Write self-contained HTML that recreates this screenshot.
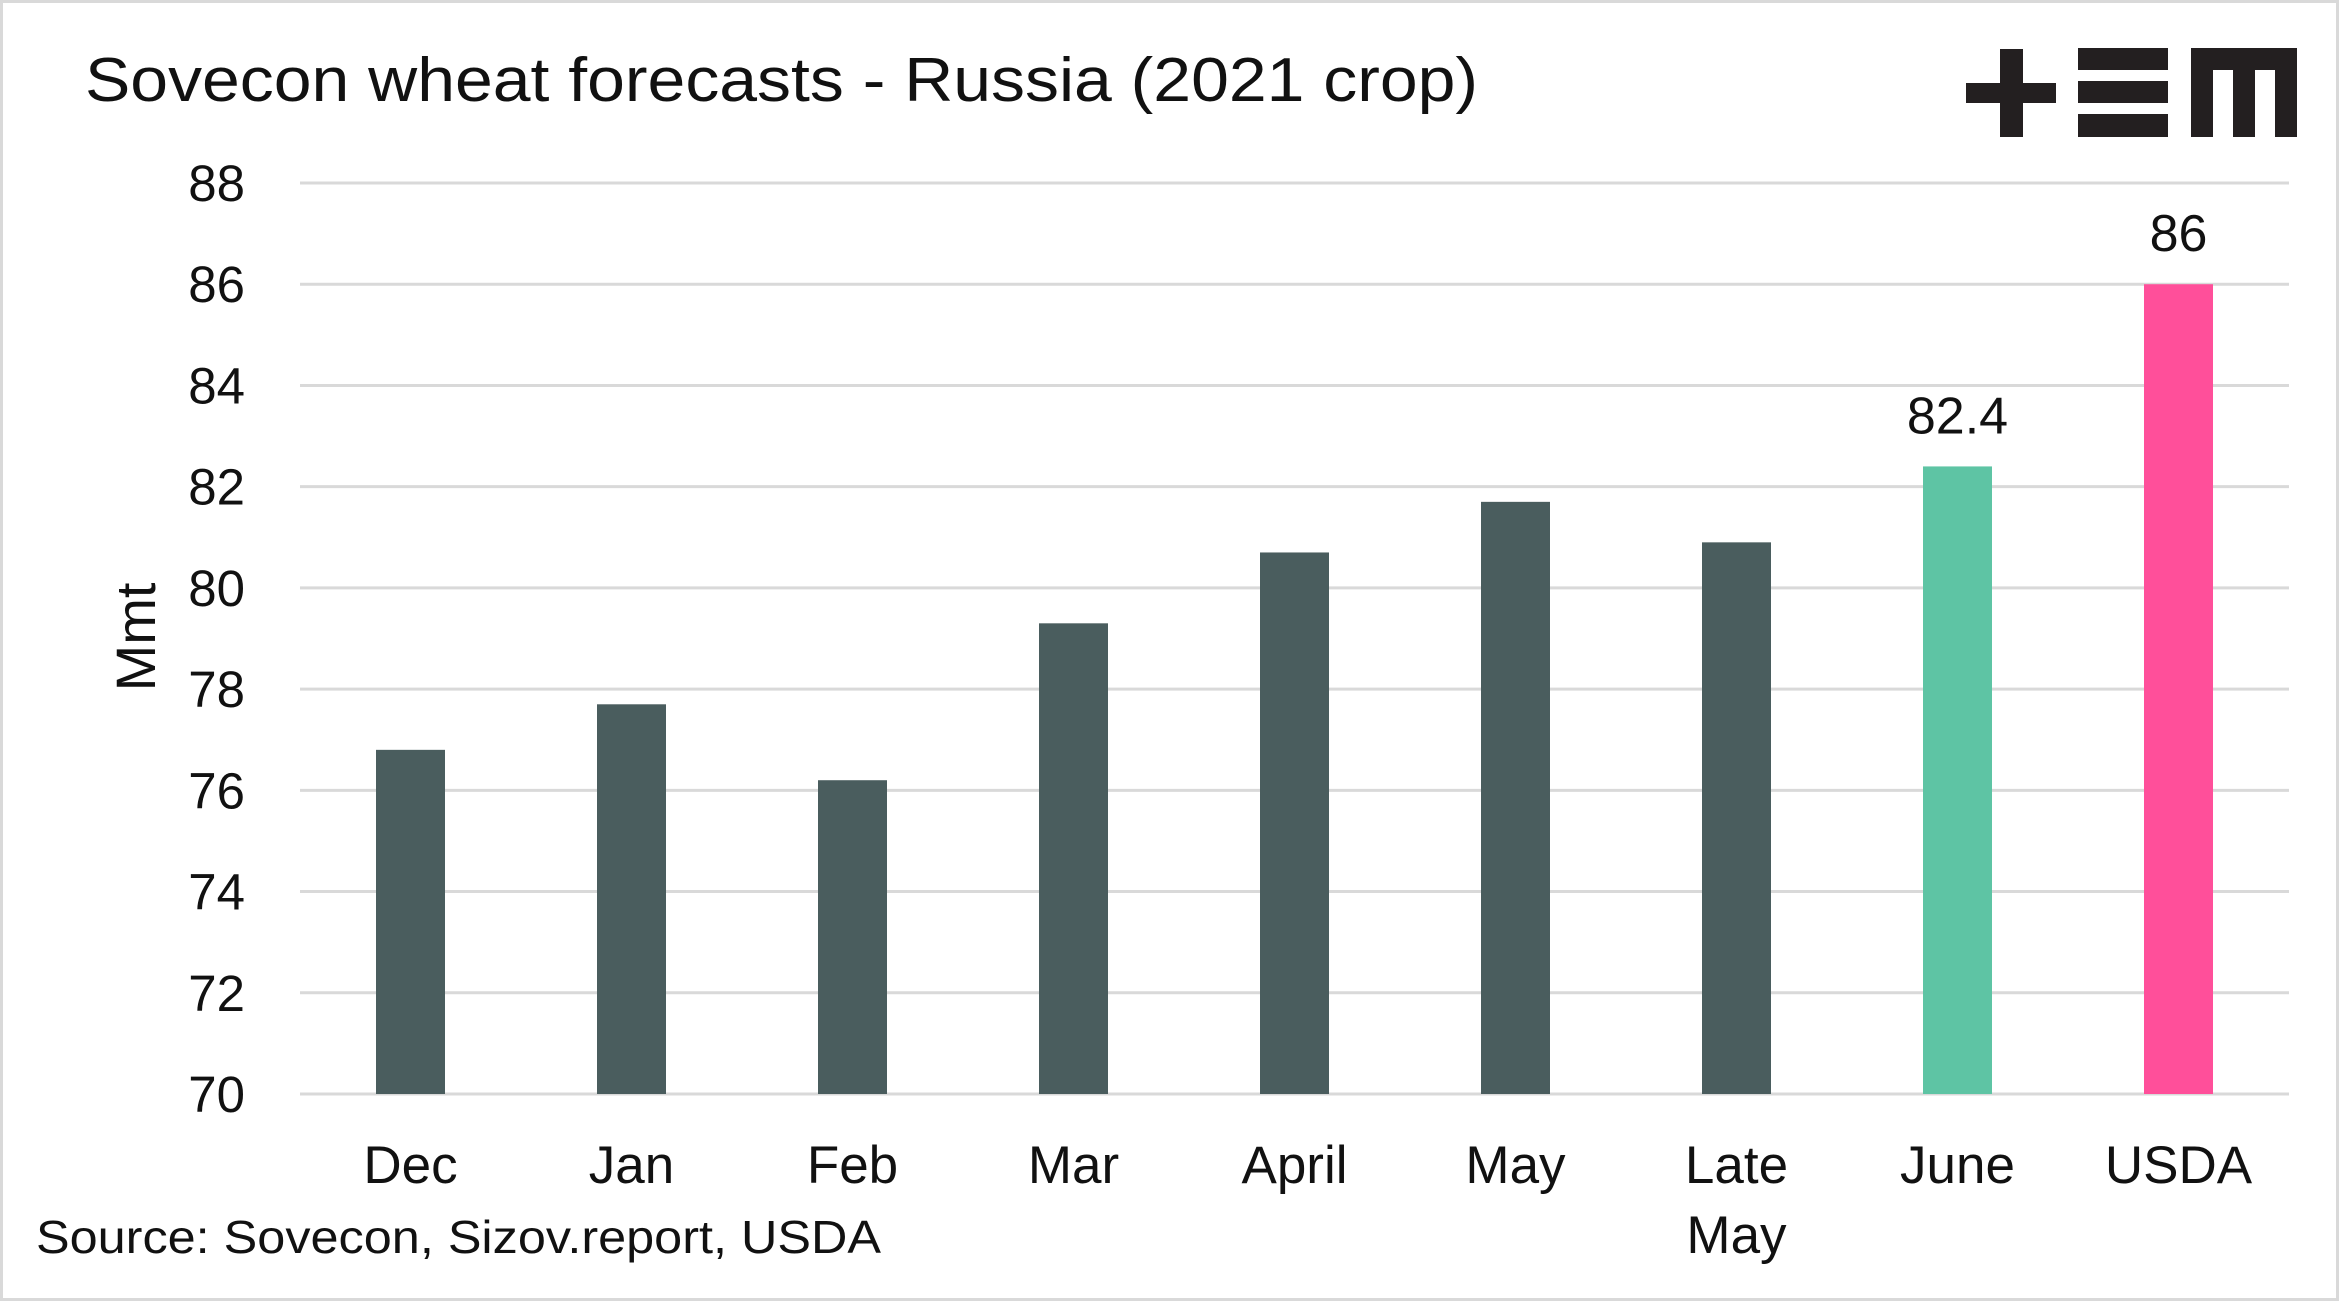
<!DOCTYPE html>
<html><head><meta charset="utf-8"><style>
html,body{margin:0;padding:0;background:#fff}
body{width:2341px;height:1302px;overflow:hidden;font-family:"Liberation Sans",sans-serif}
</style></head><body>
<svg width="2341" height="1302" xmlns="http://www.w3.org/2000/svg" font-family="Liberation Sans, sans-serif">
<rect x="1.5" y="1.5" width="2336" height="1298" fill="#fff" stroke="#d9d9d9" stroke-width="3"/>
<text x="85" y="101" font-size="62" textLength="1393" lengthAdjust="spacingAndGlyphs" fill="#111">Sovecon wheat forecasts - Russia (2021 crop)</text>
<g fill="#231f20">
<rect x="1966" y="83" width="90" height="20"/><rect x="2000" y="49" width="23" height="88"/>
<rect x="2078" y="48" width="90" height="22"/><rect x="2078" y="81" width="90" height="22"/><rect x="2078" y="114" width="90" height="23"/>
<path d="M2191 48 H2297 V137 H2275 V70 H2255 V137 H2233 V70 H2213 V137 H2191 Z"/>
</g>
<g id="grid"></g><g id="bars"></g><g id="labels"></g>
<text transform="translate(155,637) rotate(-90)" text-anchor="middle" font-size="56" fill="#111">Mmt</text>
<text x="36" y="1253" font-size="46" textLength="845" lengthAdjust="spacingAndGlyphs" fill="#111">Source: Sovecon, Sizov.report, USDA</text>
</svg>
<script>
const categories=[["Dec"],["Jan"],["Feb"],["Mar"],["April"],["May"],["Late","May"],["June"],["USDA"]];
const values=[76.8,77.7,76.2,79.3,80.7,81.7,80.9,82.4,86];
const barColors=["#4a5d5e","#4a5d5e","#4a5d5e","#4a5d5e","#4a5d5e","#4a5d5e","#4a5d5e","#5ec4a4","#ff4f9a"];
const valueLabels=["","","","","","","","82.4","86"];
const yTicks=[70,72,74,76,78,80,82,84,86,88];
const NS="http://www.w3.org/2000/svg";
const x0=300,x1=2289,yTop=183,yBot=1094,yMin=70,yMax=88;
const band=(x1-x0)/categories.length;
function y(v){return yBot-(v-yMin)/(yMax-yMin)*(yBot-yTop);}
function xc(i){return x0+band*(i+0.5);}
function mk(tag,attrs,parent,text){const e=document.createElementNS(NS,tag);for(const k in attrs)e.setAttribute(k,attrs[k]);if(text!==undefined)e.textContent=text;document.getElementById(parent).appendChild(e);return e;}
yTicks.forEach(t=>{
 const l=mk('line',{x1:x0,x2:x1,y1:y(t),y2:y(t),stroke:'#d9d9d9','stroke-width':3},'grid');
 
 
 const tx=mk('text',{x:245,y:y(t)+18,'text-anchor':'end','font-size':51,fill:'#111'},'grid',String(t));
 
 
});
values.forEach((v,i)=>{
 const w=69;
 const r=mk('rect',{x:xc(i)-w/2,y:y(v),width:w,height:yBot-y(v),fill:barColors[i]},'bars');
 
 
 if(valueLabels[i]){
  const t=mk('text',{x:xc(i),y:y(v)-33,'text-anchor':'middle','font-size':52,fill:'#111'},'labels',valueLabels[i]);
  
  
 }
 categories[i].forEach((line,j)=>{
  const t=mk('text',{x:xc(i),y:1183+j*70,'text-anchor':'middle','font-size':53,fill:'#111'},'labels',line);
  
  
 });
});
</script>
</body></html>
